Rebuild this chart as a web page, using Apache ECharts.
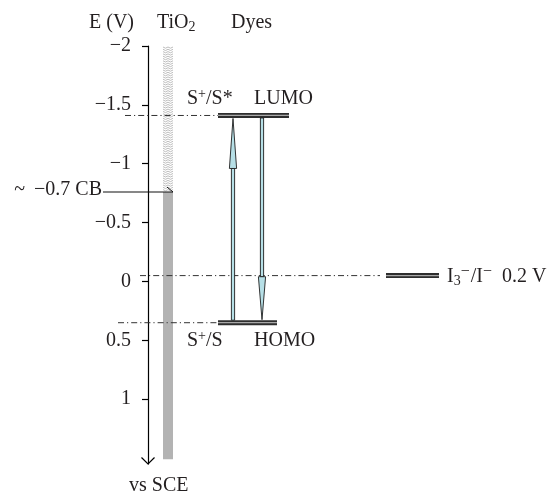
<!DOCTYPE html>
<html><head><meta charset="utf-8">
<script src="https://cdn.jsdelivr.net/npm/echarts@6/dist/echarts.min.js"></script>
<style>html,body{margin:0;padding:0;background:#fff}#c{width:554px;height:493px}</style>
</head><body><div id="c"></div>
<script>
// ---- data ----
const tickValues = [-2, -1.5, -1, -0.5, 0, 0.5, 1];
const tickLabels = ['\u22122', '\u22121.5', '\u22121', '\u22120.5', '0', '0.5', '1'];
const axisRange = [-2, 1.55];
const cbLevel = -0.76;          // TiO2 conduction band edge
const tio2Bottom = 1.51;        // bottom of filled TiO2 bar
const lumoLevel = -1.41;        // S+/S*
const homoLevel = 0.35;         // S+/S
const redoxLevel = -0.05;       // I3-/I-
const levelNames = ['LUMO', 'HOMO', 'redox'];
const levelValues = [lumoLevel, homoLevel, redoxLevel];

// ---- layout (horizontal offsets from the energy axis, px units of x axis) ----
const FONT = 'Liberation Serif';
const FS = 20;
const TXT = '#231f20';
const levelSpan = { LUMO: [70, 141], HOMO: [70, 129], redox: [238, 291] };
const dashSpan = { LUMO: [-23, 70], HOMO: [-30, 70], redox: [-8, 232] };
const tio2X = [15, 25];
const upX = 85, downX = 114;
const cbLineX = [-45, 25];

const chart = echarts.init(document.getElementById('c'), null, { renderer: 'canvas' });

function levelBar(params, api) {
  const a = api.coord([api.value(0), api.value(2)]);
  const b = api.coord([api.value(1), api.value(2)]);
  const y = a[1];
  return { type: 'group', children: [
    { type: 'rect', shape: { x: a[0], y: y - 2.5, width: b[0] - a[0], height: 5 }, style: { fill: '#2e2e2e' } },
    { type: 'line', shape: { x1: a[0], y1: y, x2: b[0], y2: y }, style: { stroke: '#a8a8a8', lineWidth: 1.2 } }
  ]};
}
function dashLine(params, api) {
  const a = api.coord([api.value(0), api.value(2)]);
  const b = api.coord([api.value(1), api.value(2)]);
  return { type: 'line', shape: { x1: a[0], y1: a[1], x2: b[0], y2: b[1] },
    style: { stroke: '#333', lineWidth: 1, lineDash: [6, 3, 1.2, 3] } };
}
function arrow(params, api) {
  const x = api.value(0), from = api.value(1), to = api.value(2);
  const p0 = api.coord([x, from]), p1 = api.coord([x, to]);
  const up = p1[1] < p0[1];
  const headLen = up ? 50 : 43;
  const tipY = up ? p1[1] + 3 : p1[1] - 3;
  const startY = up ? p0[1] - 2.5 : p0[1] + 2.5;
  const baseY = up ? tipY + headLen : tipY - headLen;
  const cx = p0[0];
  const fill = '#b6dfe6';
  return { type: 'group', children: [
    { type: 'rect', shape: { x: cx - 1.6, y: Math.min(startY, baseY), width: 3.2, height: Math.abs(baseY - startY) },
      style: { fill: fill, stroke: '#1e1e1e', lineWidth: 0.9 } },
    { type: 'polygon', shape: { points: [[cx - 3.6, baseY], [cx, tipY], [cx + 3.6, baseY]] },
      style: { fill: fill, stroke: '#1e1e1e', lineWidth: 0.9 } }
  ]};
}
function tio2(params, api) {
  const x0 = api.value(0), x1 = api.value(1);
  const tl = api.coord([x0, axisRange[0]]);
  const cb = api.coord([x1, api.value(2)]);
  const bt = api.coord([x1, api.value(3)]);
  const w = cb[0] - tl[0];
  const kids = [
    { type: 'rect', shape: { x: tl[0], y: cb[1], width: w, height: bt[1] - cb[1] }, style: { fill: '#b3b3b3' } }
  ];
  for (let y = tl[1] + 1; y < cb[1] - 1; y += 2.3) {
    kids.push({ type: 'polyline', shape: { points: [
      [tl[0], y], [tl[0] + w * 0.25, y + 1.2], [tl[0] + w * 0.5, y], [tl[0] + w * 0.75, y + 1.2], [tl[0] + w, y]
    ] }, style: { stroke: '#b5b5b5', lineWidth: 0.9, fill: null } });
  }
  return { type: 'group', children: kids };
}
function cbArrow(params, api) {
  const a = api.coord([api.value(0), api.value(2)]);
  const b = api.coord([api.value(1), api.value(2)]);
  return { type: 'group', children: [
    { type: 'line', shape: { x1: a[0], y1: a[1], x2: b[0], y2: b[1] }, style: { stroke: '#111', lineWidth: 1.2 } },
    { type: 'line', shape: { x1: b[0] - 6, y1: b[1] - 5, x2: b[0], y2: b[1] }, style: { stroke: '#111', lineWidth: 1 } }
  ]};
}
function axisHead(params, api) {
  const p = api.coord([0, api.value(0)]);
  return { type: 'polyline', shape: { points: [[p[0] - 6.5, p[1] - 6.5], [p[0], p[1]], [p[0] + 6.5, p[1] - 6.5]] },
    style: { stroke: '#000', lineWidth: 1.2, fill: null } };
}

const rich = {
  n: { fontFamily: FONT, fontSize: FS, color: TXT },
  sup: { fontFamily: FONT, fontSize: 14, color: TXT, padding: [0, 0, 9, 0] },
  supm: { fontFamily: FONT, fontSize: 16, color: TXT, padding: [0, 1, 10, 0] },
  sub: { fontFamily: FONT, fontSize: 14, color: TXT, padding: [8, 0, 0, 0] }
};
function txt(x, y, text, align) {
  return { type: 'text', x: x, y: y, style: { text: text, rich: rich, font: FS + 'px ' + FONT, fill: TXT,
    align: align || 'left', verticalAlign: 'middle' } };
}

const option = {
  animation: false,
  grid: { left: 148, right: 0, top: 46, bottom: 29, outerBoundsMode: 'none', containLabel: false },
  xAxis: { type: 'value', min: 0, max: 406, show: false },
  yAxis: {
    type: 'value', inverse: true, min: axisRange[0], max: axisRange[1],
    axisLine: { show: true, onZero: false, lineStyle: { color: '#000', width: 1.2 } },
    axisTick: { show: true, length: 6, customValues: tickValues, lineStyle: { color: '#000', width: 1.2 } },
    axisLabel: { customValues: tickValues, margin: 17, fontFamily: FONT, fontSize: FS, color: TXT,
      formatter: v => { const i = tickValues.findIndex(t => Math.abs(t - v) < 1e-9); return i >= 0 ? tickLabels[i] : ''; } },
    splitLine: { show: false }
  },
  series: [
    { type: 'custom', renderItem: tio2, data: [[tio2X[0], tio2X[1], cbLevel, tio2Bottom]], encode: { x: [0, 1], y: [2, 3] }, silent: true, clip: false },
    { type: 'custom', renderItem: dashLine, data: levelNames.map((n, i) => [dashSpan[n][0], dashSpan[n][1], levelValues[i]]), encode: { x: [0, 1], y: 2 }, silent: true, clip: false },
    { type: 'custom', renderItem: levelBar, data: levelNames.map((n, i) => [levelSpan[n][0], levelSpan[n][1], levelValues[i]]), encode: { x: [0, 1], y: 2 }, silent: true, clip: false },
    { type: 'custom', renderItem: arrow, data: [[upX, homoLevel, lumoLevel], [downX, lumoLevel, homoLevel]], encode: { x: 0, y: [1, 2] }, silent: true, clip: false },
    { type: 'custom', renderItem: cbArrow, data: [[cbLineX[0], cbLineX[1], cbLevel]], encode: { x: [0, 1], y: 2 }, silent: true, clip: false },
    { type: 'custom', renderItem: axisHead, data: [[axisRange[1]]], encode: { y: 0 }, silent: true, clip: false }
  ],
  graphic: [
    txt(89, 23, '{n|E (V)}'),
    txt(157, 23, '{n|TiO}{sub|2}'),
    txt(231, 23, '{n|Dyes}'),
    txt(187, 99, '{n|S}{sup|+}{n|/S*}'),
    txt(254, 99, '{n|LUMO}'),
    txt(187, 341, '{n|S}{sup|+}{n|/S}'),
    txt(254, 341, '{n|HOMO}'),
    txt(447, 277, '{n|I}{sub|3}{supm|\u2212}{n|/I}{supm|\u2212}{n| \u20090.2 V}'),
    txt(102, 190, '{n|~ \u2009\u22120.7 CB}', 'right'),
    txt(129, 486, '{n|vs SCE}')
  ]
};
chart.setOption(option);
</script></body></html>
